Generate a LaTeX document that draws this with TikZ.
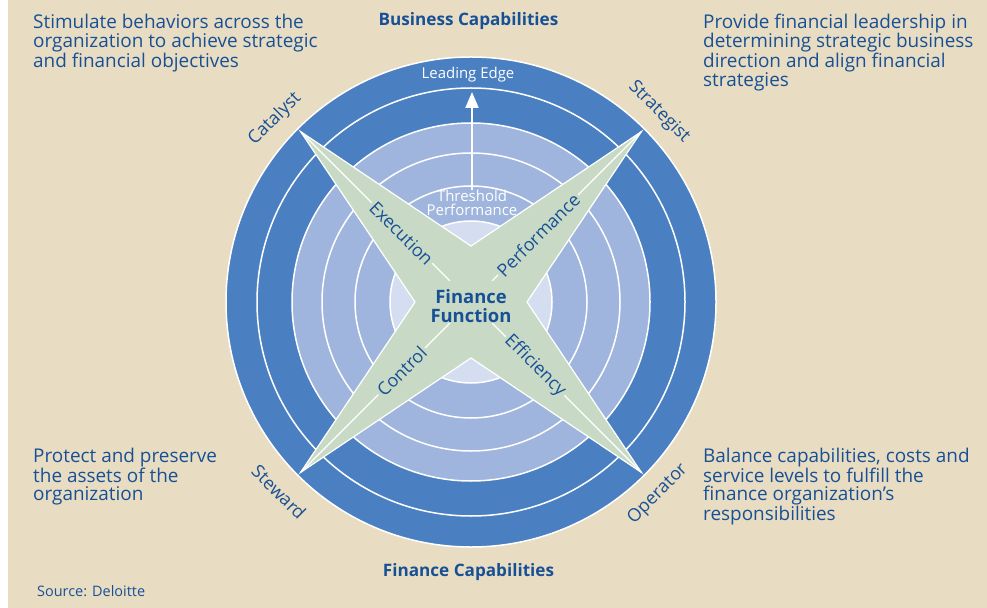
\documentclass[tikz,border=0pt]{standalone}
\usepackage{fontspec}
\setmainfont{Open Sans}
\usetikzlibrary{arrows.meta}
\definecolor{bgbeige}{RGB}{232,221,194}
\definecolor{ringdark}{RGB}{74,128,194}
\definecolor{ringlight}{RGB}{160,181,221}
\definecolor{ringinner}{RGB}{213,222,240}
\definecolor{stargreen}{RGB}{200,218,197}
\definecolor{textblue}{RGB}{24,80,150}
\begin{document}
\begin{tikzpicture}[x=1bp,y=-1bp,
  ringline/.style={draw=white,line width=1.5bp},
  starshape/.style={fill=stargreen,draw=white,line width=1.2bp,line join=miter},
  axisline/.style={draw=white,line width=1.3bp},
  armlabel/.style={fill=stargreen,inner sep=2bp,text=textblue,font=\fontsize{18}{19}\selectfont},
  rolelabel/.style={inner sep=0pt,text=textblue,font=\fontsize{18}{20}\selectfont},
  corner/.style={inner sep=0pt,anchor=north west,align=left,text=textblue},
  title/.style={inner sep=0pt,anchor=base,text=textblue,font=\fontsize{17.2}{19}\selectfont\bfseries},
  whitetext/.style={inner sep=0pt,text=white,font=\fontsize{15}{14}\selectfont,align=center},
  arrowline/.style={draw=white,line width=2bp,-{Triangle[length=16bp,width=13bp]}}
]
\useasboundingbox (0,0) rectangle (987,608);
\fill[white] (0,0) rectangle (987,608);
\fill[bgbeige] (8,0) rectangle (987,608);

% rings
\coordinate (c) at (471,302);
\fill[ringdark] (c) circle[radius=245bp];
\fill[ringlight] (c) circle[radius=179bp];
\fill[ringinner] (c) circle[radius=81bp];
\foreach \r in {245,214,179,149,116,81}
  \draw[ringline] (c) circle[radius=\r bp];

% star
\coordinate (tl) at (300.6,131.6);
\coordinate (tr) at (641.4,131.6);
\coordinate (bl) at (300.6,472.4);
\coordinate (br) at (641.4,472.4);
\coordinate (vt) at (471,246);
\coordinate (vl) at (415,302);
\coordinate (vr) at (527,302);
\coordinate (vb) at (471,358);
\path[starshape] (tl) -- (vt) -- (tr) -- (vr) -- (br) -- (vb) -- (bl) -- (vl) -- cycle;

% axis lines
\coordinate (itl) at (449.8,280.8);
\coordinate (itr) at (492.2,280.8);
\coordinate (ibl) at (449.8,323.2);
\coordinate (ibr) at (492.2,323.2);
\draw[axisline] (itl) -- (tl);
\draw[axisline] (itr) -- (tr);
\draw[axisline] (ibl) -- (bl);
\draw[axisline] (ibr) -- (br);

% arm labels
\node[armlabel,rotate=-45] (exe) at (401.4,233.4) {Execution};
\node[armlabel,rotate=45] (perf) at (538.2,234.8) {Performance};
\node[armlabel,rotate=45] (ctrl) at (401.7,371.3) {Control};
\node[armlabel,rotate=-45] (eff) at (535,366) {Efficiency};

% centre
\node[inner sep=0pt,align=center,text=textblue,font=\fontsize{18.5}{19.5}\selectfont\bfseries] (ff) at (471,306) {Finance\\Function};

% threshold and leading edge
\node[whitetext,anchor=north] (thr) at (472,190) {Threshold\\Performance};
\node[whitetext] (lead) at (468,75) {Leading Edge};
\coordinate (le) at (472,92);
\draw[arrowline] (thr.north) -- (le);

% role labels
\node[rolelabel,rotate=45] (cat) at (275,119) {Catalyst};
\node[rolelabel,rotate=-45] (str) at (659,112) {Strategist};
\node[rolelabel,rotate=-45] (stw) at (279,492) {Steward};
\node[rolelabel,rotate=45] (opr) at (658,494) {Operator};

% titles
\node[title] (bc) at (468.5,26) {Business Capabilities};
\node[title] (fc) at (468.5,576) {Finance Capabilities};

% corner texts
\node[corner,font=\fontsize{19}{19}\selectfont] (ttl) at (33,14) {Stimulate behaviors across the\\organization to achieve strategic\\and financial objectives};
\node[corner,font=\fontsize{19}{19}\selectfont] (ttr) at (703,14) {Provide financial leadership in\\determining strategic business\\direction and align financial\\strategies};
\node[corner,font=\fontsize{19}{18}\selectfont] (tbl) at (33,448) {Protect and preserve\\the assets of the\\organization};
\node[corner,font=\fontsize{19}{17.8}\selectfont] (tbr) at (703,448) {Balance capabilities, costs and\\service levels to fulfill the\\finance organization’s\\responsibilities};
\node[inner sep=0pt,anchor=base west,text=textblue,font=\fontsize{14.5}{16}\selectfont] (src) at (37,596) {Source: Deloitte};
\end{tikzpicture}
\end{document}
